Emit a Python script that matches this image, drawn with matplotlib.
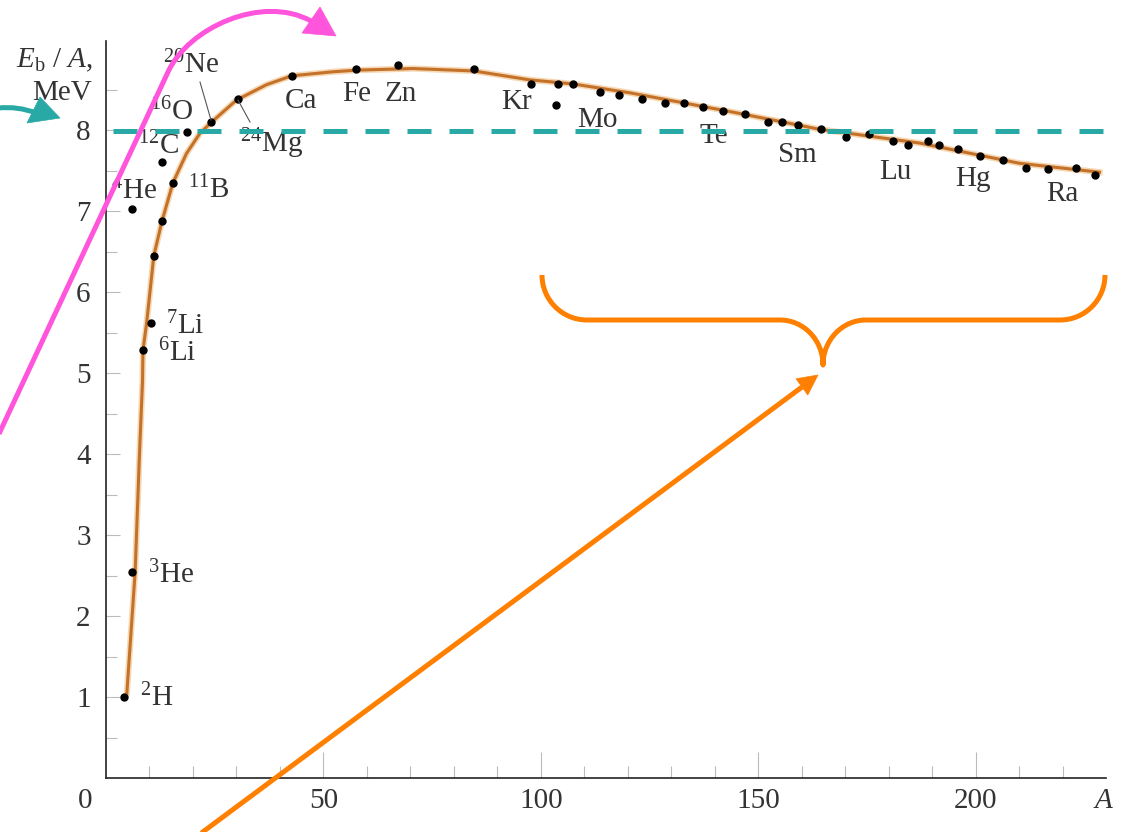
import matplotlib
matplotlib.use('Agg')
import matplotlib.pyplot as plt
from matplotlib.path import Path
from matplotlib.patches import PathPatch, Polygon
from matplotlib.lines import Line2D
from matplotlib.ticker import FixedLocator

plt.rcParams['font.family'] = ['Liberation Serif', 'DejaVu Serif']
plt.rcParams['mathtext.fontset'] = 'custom'
plt.rcParams['mathtext.rm'] = 'Liberation Serif'
plt.rcParams['mathtext.it'] = 'Liberation Serif:italic'

# measured nuclides (mass number A, binding energy per nucleon in MeV)
A_pts = [4.1, 6.0, 6.0, 8.5, 10.3, 11.0, 12.9, 12.9, 15.4, 18.7,
         24.2, 30.4, 42.8, 57.6, 67.2, 84.6, 97.7, 103.6, 103.9, 107.4,
         113.6, 117.9, 123.2, 128.5, 132.9, 137.2, 141.8, 146.9, 152.2, 155.4,
         159.1, 164.4, 170.3, 175.6, 180.9, 184.4, 189.0, 191.5, 195.9, 201.1,
         206.4, 211.5, 216.6, 223.0, 227.4]
E_pts = [1.0, 2.54, 7.02, 5.28, 5.62, 6.45, 6.88, 7.6, 7.35, 7.98,
         8.10, 8.38, 8.67, 8.75, 8.80, 8.75, 8.57, 8.31, 8.57, 8.57,
         8.47, 8.43, 8.38, 8.33, 8.33, 8.28, 8.23, 8.2, 8.10, 8.10,
         8.06, 8.01, 7.91, 7.95, 7.86, 7.81, 7.86, 7.81, 7.77, 7.68,
         7.63, 7.53, 7.52, 7.53, 7.44]

# smooth trend curve
curve_A = [4.8, 6.7, 7.7, 8.4, 8.5, 9.35, 11.0, 12.9, 15.4, 18.5, 21.6, 24.3, 30.0,
           36.9, 42.7, 52.2, 57.7, 70.6, 84.6, 97.5, 107.4, 120.5, 143.4, 164.1,
           187.1, 210.1, 228.5]
curve_E = [1.05, 2.54, 4.0, 4.9, 5.28, 5.62, 6.45, 6.88, 7.35, 7.71, 7.96, 8.10, 8.37,
           8.56, 8.67, 8.72, 8.74, 8.76, 8.73, 8.62, 8.57, 8.46, 8.23, 8.01,
           7.84, 7.59, 7.48]

x_ticks = [50, 100, 150, 200]
y_ticks = [1, 2, 3, 4, 5, 6, 7, 8]

# element labels: text, left edge A, baseline E
labels = [
    (r'$^{2}$H', 7.8, 0.89), (r'$^{3}$He', 9.7, 2.4), (r'$^{6}$Li', 11.95, 5.14),
    (r'$^{7}$Li', 13.8, 5.48), (r'$^{11}$B', 18.85, 7.16), (r'$^{4}$He', 1.15, 7.14),
    (r'$^{12}$C', 7.4, 7.70), (r'$^{16}$O', 10.1, 8.12), (r'$^{20}$Ne', 13.1, 8.70),
    (r'$^{24}$Mg', 30.8, 7.73), ('Ca', 41.1, 8.27), ('Fe', 54.3, 8.36),
    ('Zn', 64.1, 8.36), ('Kr', 91.0, 8.26), ('Mo', 108.3, 8.04),
    ('Te', 136.6, 7.84), ('Sm', 154.5, 7.60), ('Lu', 177.9, 7.40),
    ('Hg', 195.2, 7.31), ('Ra', 216.3, 7.12),
]

W, H = 1122, 832
TXT = '#333333'
FS = 21


def fp(x, y):
    # pixel position (from top-left) to figure fraction
    return (x / W, 1 - y / H)


fig = plt.figure(figsize=(W / 100, H / 100), dpi=100)
ax = fig.add_axes([106 / W, 54 / H, 1000 / W, 737 / H])
ax.set_xlim(0, 230)
ax.set_ylim(0, 9.1)

for s in ['top', 'right']:
    ax.spines[s].set_visible(False)
for s in ['left', 'bottom']:
    ax.spines[s].set_color('#222222')
    ax.spines[s].set_linewidth(1.2)

ax.set_xticks(x_ticks)
ax.set_xticklabels([str(t) for t in x_ticks])
ax.xaxis.set_minor_locator(FixedLocator([10, 20, 30, 40, 60, 70, 80, 90, 110, 120, 130, 140,
                                         160, 170, 180, 190, 210, 220]))
ax.set_yticks(y_ticks)
ax.set_yticklabels([str(t) for t in y_ticks])
ax.yaxis.set_minor_locator(FixedLocator([0.5, 1.5, 2.5, 3.5, 4.5, 5.5, 6.5, 7.5, 8.5]))
ax.tick_params(axis='x', which='major', direction='in', length=19, width=0.8,
               color='#bbbbbb', pad=7, labelsize=FS, labelcolor=TXT)
ax.tick_params(axis='x', which='minor', direction='in', length=9, width=0.8, color='#bbbbbb')
ax.tick_params(axis='y', which='major', direction='in', length=10, width=0.8,
               color='#bbbbbb', pad=11, labelsize=FS, labelcolor=TXT)
ax.tick_params(axis='y', which='minor', direction='in', length=8, width=0.8, color='#bbbbbb')

ax.plot(curve_A, curve_E, color='#f3c895', lw=4.5, alpha=0.7, solid_joinstyle='round', zorder=2)
ax.plot(curve_A, curve_E, color='#c4722a', lw=2.2, solid_joinstyle='round', zorder=3)
ax.plot(A_pts, E_pts, 'o', color='black', ms=5, zorder=4, clip_on=False)

for txt, a, e in labels:
    ax.text(a, e, txt, ha='left', va='baseline', fontsize=FS, color=TXT, zorder=5)

# leader lines for Ne and Mg
for x0, y0, x1, y1 in [(200, 82, 211, 120), (238, 100, 250, 122)]:
    fig.add_artist(Line2D([x0 / W, x1 / W], [1 - y0 / H, 1 - y1 / H], color='#555555',
                          lw=0.8, transform=fig.transFigure, zorder=3))

# axis captions
fig.text(*fp(93, 67), r'$E_\mathrm{b}$ / $A$,', ha='right', va='baseline', fontsize=FS, color=TXT)
fig.text(*fp(92, 100), 'MeV', ha='right', va='baseline', fontsize=FS, color=TXT)
fig.text(*fp(85, 801), '0', ha='center', va='center', fontsize=FS, color=TXT)
fig.text(*fp(1103, 801), 'A', ha='center', va='center', fontsize=FS, color=TXT, style='italic')

# --- overlay annotations ---
MAG = '#ff55dd'
TEAL = '#29a9a6'
ORG = '#ff8000'
LW = 3.6


def add_path(pts, codes, color, lw=LW, cap='butt', z=6):
    p = PathPatch(Path([fp(x, y) for x, y in pts], codes), fill=False, edgecolor=color,
                  lw=lw, capstyle=cap, joinstyle='round', transform=fig.transFigure, zorder=z)
    fig.add_artist(p)


def add_head(pts, color, z=6):
    fig.add_artist(Polygon([fp(x, y) for x, y in pts], closed=True, facecolor=color,
                           edgecolor=color, lw=0.5, transform=fig.transFigure, zorder=z))


# teal dashed line at 8 MeV
fig.add_artist(Line2D([113 / W, 1113 / W], [1 - 130.5 / H] * 2, color=TEAL, lw=LW,
                      linestyle=(0, (4.8, 3.6)), transform=fig.transFigure, zorder=6))

# teal arrow pointing at the 8 MeV tick
add_path([(-2, 108), (18, 106), (36, 113)], [Path.MOVETO, Path.CURVE3, Path.CURVE3], TEAL)
add_head([(40, 97), (60, 118), (27, 123)], TEAL)

# magenta arrow
add_path([(-2, 436), (168, 72), (188, 28), (262, -6), (311, 21)],
         [Path.MOVETO, Path.LINETO, Path.CURVE4, Path.CURVE4, Path.CURVE4], MAG)
add_head([(302, 33), (320, 7), (336, 36)], MAG)

# orange brace
k = 0.5523
C4 = Path.CURVE4
add_path([(542, 275),
          (542, 275 + k * 45), (587 - k * 45, 320), (587, 320),
          (780, 320),
          (780 + k * 43, 320), (823, 365 - k * 45), (823, 365),
          (823, 365 - k * 45), (866 - k * 43, 320), (866, 320),
          (1060, 320),
          (1060 + k * 45, 320), (1105, 275 + k * 45), (1105, 275)],
         [Path.MOVETO, C4, C4, C4, Path.LINETO, C4, C4, C4, C4, C4, C4,
          Path.LINETO, C4, C4, C4], ORG)

# orange arrow pointing at the brace
add_path([(200, 834), (802, 387)], [Path.MOVETO, Path.LINETO], ORG)
add_head([(796, 378.8), (818, 375), (807.8, 395)], ORG)

fig.savefig('out.png', dpi=100)
